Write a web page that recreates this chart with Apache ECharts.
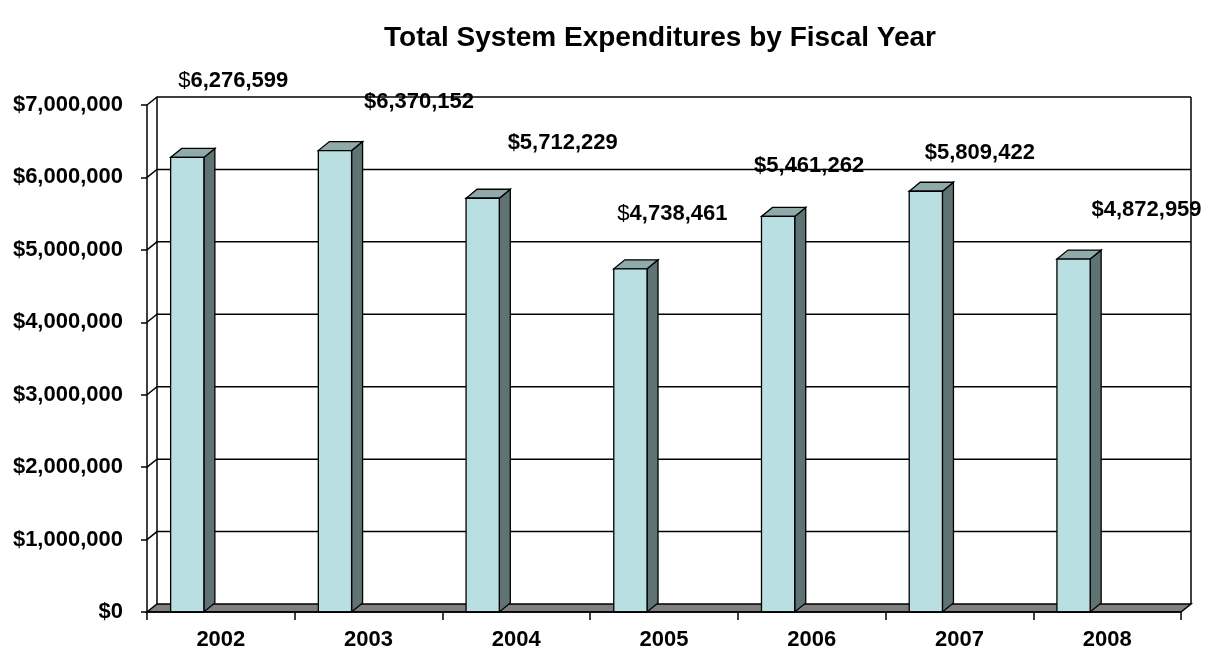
<!DOCTYPE html>
<html>
<head>
<meta charset="utf-8">
<script src="https://cdn.jsdelivr.net/npm/echarts@6/dist/echarts.min.js"></script>
<style>
  html, body { margin: 0; padding: 0; background: #fff; }
  #chart { width: 1209px; height: 654px; }
</style>
</head>
<body>
<div id="chart"></div>
<script>
// data
const years = ['2002', '2003', '2004', '2005', '2006', '2007', '2008'];
const expenditures = [6276599, 6370152, 5712229, 4738461, 5461262, 5809422, 4872959];
const yTicks = [0, 1000000, 2000000, 3000000, 4000000, 5000000, 6000000, 7000000];

// where excel dropped the data labels, relative to the bar top
const labelOffsets = [[46, -76], [84, -49], [80, -55], [42, -55], [31, -51], [54, -38], [73, -49]];
const plainDollar = [true, false, false, true, false, false, false];

const DX = 10, DY = -8;      // depth of the walls
const BDX = 11, BDY = -9;    // depth of the bars
const FONT = '"Liberation Sans", Arial, sans-serif';

function money(v) {
    return '$' + v.toLocaleString('en-US');
}

let chartDom = document.getElementById('chart');
let chart = echarts.init(chartDom);

let option = {
    animation: false,
    backgroundColor: '#fff',
    title: {
        text: 'Total System Expenditures by Fiscal Year',
        left: 655,
        top: 19,
        textAlign: 'center',
        textStyle: { fontFamily: FONT, fontSize: 28, fontWeight: 'bold', color: '#000' }
    },
    grid: { left: 147, right: 28, top: 105, bottom: 42 },
    xAxis: {
        type: 'category',
        data: years,
        axisLine: { show: true, lineStyle: { color: '#000', width: 1.5 } },
        axisTick: { show: true, length: 8, lineStyle: { color: '#000', width: 1.5 } },
        axisLabel: { margin: 17, color: '#000', fontFamily: FONT, fontSize: 22, fontWeight: 'bold' },
        splitLine: { show: false },
        z: 5
    },
    yAxis: {
        type: 'value',
        min: 0,
        max: 7000000,
        interval: 1000000,
        axisLine: { show: true, lineStyle: { color: '#000', width: 1.5 } },
        axisTick: { show: true, length: 6, lineStyle: { color: '#000', width: 1.5 } },
        axisLabel: {
            margin: 24, color: '#000', fontFamily: FONT, fontSize: 22, fontWeight: 'bold',
            formatter: v => money(v)
        },
        splitLine: { show: false }
    },
    series: [
        {
            // back wall, side wall and floor
            type: 'custom',
            z: 1,
            data: yTicks,
            encode: { y: 0 },
            renderItem: (params, api) => {
                let cs = params.coordSys;
                let v = api.value(0);
                let y = api.coord([0, v])[1];
                let x0 = cs.x, x1 = cs.x + cs.width;
                let children = [];
                let line = { stroke: '#000', lineWidth: 1.5, fill: null };
                if (v === 0) {
                    children.push({
                        type: 'polygon',
                        shape: { points: [[x0, y], [x1, y], [x1 + DX, y + DY], [x0 + DX, y + DY]] },
                        style: { fill: '#808080', stroke: '#000', lineWidth: 1.5 }
                    });
                } else {
                    children.push({
                        type: 'polyline',
                        shape: { points: [[x0, y], [x0 + DX, y + DY], [x1 + DX, y + DY]] },
                        style: line
                    });
                }
                if (v === yTicks[yTicks.length - 1]) {
                    let yb = api.coord([0, 0])[1];
                    children.push({
                        type: 'line',
                        shape: { x1: x0 + DX, y1: y + DY, x2: x0 + DX, y2: yb + DY },
                        style: line
                    });
                    children.push({
                        type: 'line',
                        shape: { x1: x1 + DX, y1: y + DY, x2: x1 + DX, y2: yb + DY },
                        style: line
                    });
                }
                return { type: 'group', children: children };
            }
        },
        {
            // the 3d bars
            type: 'custom',
            z: 3,
            data: expenditures.map((v, i) => [i, v]),
            encode: { x: 0, y: 1 },
            renderItem: (params, api) => {
                let i = api.value(0);
                let top = api.coord([i, api.value(1)]);
                let base = api.coord([i, 0]);
                let band = api.size([1, 0])[0];
                let xl = top[0] - band * 0.34;
                let xr = xl + band * 0.225;
                let yt = top[1], yb = base[1];
                let st = { stroke: '#000', lineWidth: 1.3 };
                return {
                    type: 'group',
                    children: [
                        {
                            type: 'polygon',
                            shape: { points: [[xr, yb], [xr, yt], [xr + BDX, yt + BDY], [xr + BDX, yb + BDY]] },
                            style: Object.assign({ fill: '#5f7373' }, st)
                        },
                        {
                            type: 'polygon',
                            shape: { points: [[xl, yt], [xr, yt], [xr + BDX, yt + BDY], [xl + BDX, yt + BDY]] },
                            style: Object.assign({ fill: '#90a9a9' }, st)
                        },
                        {
                            type: 'rect',
                            shape: { x: xl, y: yt, width: xr - xl, height: yb - yt },
                            style: Object.assign({ fill: '#b9dfe2' }, st)
                        }
                    ]
                };
            }
        },
        {
            // data labels
            type: 'custom',
            z: 4,
            data: expenditures.map((v, i) => [i, v]),
            encode: { x: 0, y: 1 },
            renderItem: (params, api) => {
                let i = api.value(0);
                let v = api.value(1);
                let top = api.coord([i, v]);
                let band = api.size([1, 0])[0];
                let cx = top[0] - band * 0.34 + band * 0.1125;
                let off = labelOffsets[i];
                let digits = money(v).slice(1);
                let txt = plainDollar[i] ? '{n|$}{b|' + digits + '}' : '{b|$' + digits + '}';
                return {
                    type: 'text',
                    x: cx + off[0],
                    y: top[1] + off[1],
                    style: {
                        text: txt,
                        align: 'center',
                        verticalAlign: 'middle',
                        rich: {
                            n: { fontFamily: FONT, fontSize: 22, fontWeight: 'normal', fill: '#000' },
                            b: { fontFamily: FONT, fontSize: 22, fontWeight: 'bold', fill: '#000' }
                        }
                    }
                };
            }
        }
    ]
};

chart.setOption(option);
window.addEventListener('resize', () => {
    chart.resize();
});
</script>
</body>
</html>
